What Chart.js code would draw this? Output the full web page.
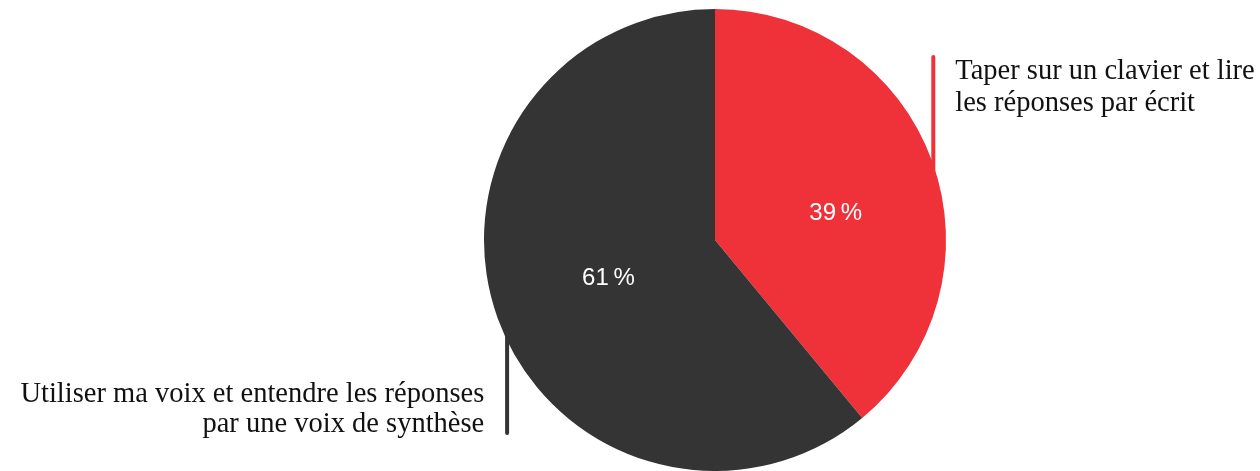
<!DOCTYPE html>
<html lang="fr">
<head>
<meta charset="utf-8">
<title>Interaction préférée</title>
<script src="https://cdn.jsdelivr.net/npm/chart.js@4/dist/chart.umd.min.js"></script>
<style>
  html, body { margin: 0; padding: 0; background: #fff; }
  #wrap { position: relative; width: 1260px; height: 471px; }
</style>
</head>
<body>
<div id="wrap"><canvas id="pieCanvas" width="1260" height="471"></canvas></div>
<script>
// Survey answers (share of respondents, %)
const categories = [
  ['Taper sur un clavier et lire', 'les réponses par écrit'],
  ['Utiliser ma voix et entendre les réponses', 'par une voix de synthèse']
];
const shares = [39, 61];
const sliceColors = ['#ef3139', '#343434'];

// Labels next to the pie, with a vertical leader line for each slice
const calloutPlugin = {
  id: 'callouts',
  afterDraw(chart) {
    const ctx = chart.ctx;
    const arcs = chart.getDatasetMeta(0).data;
    const cx = arcs[0].x, cy = arcs[0].y, r = arcs[0].outerRadius;

    // value labels inside the slices
    const labelSpots = [
      { frac: 0.535, shift: 0.13 },
      { frac: 0.49, shift: 0 }
    ];
    ctx.save();
    ctx.fillStyle = '#ffffff';
    ctx.font = '24px "Liberation Sans", Arial, sans-serif';
    ctx.textAlign = 'center';
    ctx.textBaseline = 'middle';
    arcs.forEach((arc, i) => {
      const mid = (arc.startAngle + arc.endAngle) / 2 + labelSpots[i].shift;
      const rr = r * labelSpots[i].frac;
      ctx.fillText(shares[i] + '\u202f%', cx + Math.cos(mid) * rr, cy + Math.sin(mid) * rr);
    });
    ctx.restore();

    // leader lines
    ctx.save();
    ctx.lineWidth = 4;
    ctx.lineCap = 'round';
    ctx.strokeStyle = sliceColors[0];
    ctx.beginPath();
    ctx.moveTo(cx + r * 0.945, 57);
    ctx.lineTo(cx + r * 0.945, cy - r * 0.2);
    ctx.stroke();
    ctx.strokeStyle = sliceColors[1];
    ctx.beginPath();
    ctx.moveTo(cx - r * 0.900, cy + r * 0.35);
    ctx.lineTo(cx - r * 0.900, 433);
    ctx.stroke();

    // category text
    ctx.fillStyle = '#111111';
    ctx.font = '28.5px "Liberation Serif", "DejaVu Serif", serif';
    ctx.textBaseline = 'alphabetic';
    ctx.textAlign = 'left';
    categories[0].forEach((line, k) => ctx.fillText(line, cx + r * 1.04, 79 + k * 32));
    ctx.textAlign = 'right';
    categories[1].forEach((line, k) => ctx.fillText(line, cx - r * 0.999, 402 + k * 30));
    ctx.restore();
  }
};

const pieCtx = document.getElementById('pieCanvas').getContext('2d');
const pieChart = new Chart(pieCtx, {
  type: 'pie',
  data: {
    labels: categories.map(c => c.join(' ')),
    datasets: [{
      data: shares,
      backgroundColor: sliceColors,
      borderWidth: 0
    }]
  },
  options: {
    responsive: false,
    animation: false,
    layout: { padding: { left: 484, right: 314, top: 9, bottom: 0 } },
    plugins: {
      legend: { display: false },
      tooltip: { enabled: false }
    }
  },
  plugins: [calloutPlugin]
});
</script>
</body>
</html>
